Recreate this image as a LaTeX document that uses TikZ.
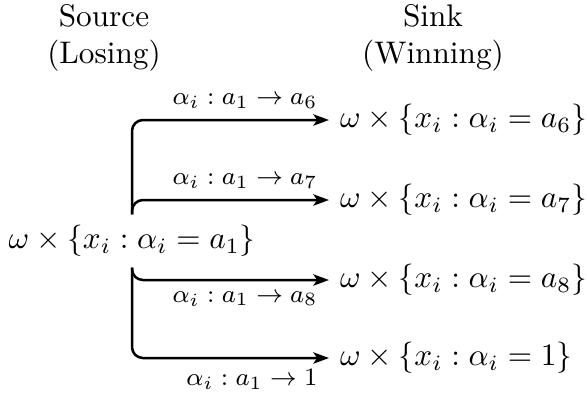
\documentclass[tikz,border=0pt]{standalone}
\usetikzlibrary{arrows.meta}
\begin{document}
\begin{tikzpicture}[x=0.32pt,y=-0.32pt,
  conn/.style={thick, rounded corners=3.5pt, -{Stealth[length=5pt,width=3.6pt,inset=1.2pt]}},
  lbl/.style={font=\footnotesize},
  hdr/.style={align=center},
  tgt/.style={anchor=west}]
\useasboundingbox (0,0) rectangle (587,397);
\node[hdr] (srchdr) at (104,38) {Source\\(Losing)};
\node[hdr] (snkhdr) at (433,38) {Sink\\(Winning)};
\node (src) at (132,241) {$\omega\times\{x_i:\alpha_i=a_1\}$};
\node[tgt] (t6) at (329,120) {$\omega\times\{x_i:\alpha_i=a_6\}$};
\node[tgt] (t7) at (329,200) {$\omega\times\{x_i:\alpha_i=a_7\}$};
\node[tgt] (t8) at (329,280) {$\omega\times\{x_i:\alpha_i=a_8\}$};
\node[tgt] (t1) at (329,358) {$\omega\times\{x_i:\alpha_i=1\}$};
\draw[conn] (src.north) |- (t6.west) node[lbl,above left] {$\alpha_i : a_1\to a_6$};
\draw[conn] (src.north) |- (t7.west) node[lbl,above left] {$\alpha_i : a_1\to a_7$};
\draw[conn] (src.south) |- (t8.west) node[lbl,below left] {$\alpha_i : a_1\to a_8$};
\draw[conn] (src.south) |- (t1.west) node[lbl,below left] {$\alpha_i : a_1\to 1$};
\end{tikzpicture}
\end{document}
